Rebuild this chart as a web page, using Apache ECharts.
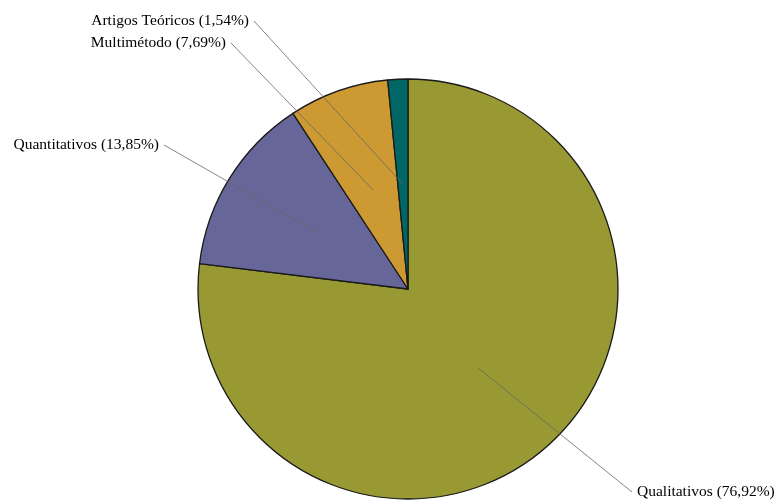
<!DOCTYPE html>
<html>
<head>
<meta charset="utf-8">
<script src="https://cdn.jsdelivr.net/npm/echarts@6/dist/echarts.min.js"></script>
<style>
html, body { margin: 0; padding: 0; background: #fff; }
#grafico { width: 774px; height: 500px; }
</style>
</head>
<body>
<div id="grafico"></div>
<script>
var categorias = ['Qualitativos', 'Quantitativos', 'Multimétodo', 'Artigos Teóricos'];
var percentuais = [76.92, 13.85, 7.69, 1.54];
var cores = ['#999933', '#666699', '#CC9933', '#006666'];

// onde cada linha-guia termina (posição do rótulo) e de que lado fica o texto
var fimLinhas = [[632, 492, 'left'], [164, 145, 'right'], [231, 43, 'right'], [254, 21, 'right']];

var centro = [408, 289];
var raio = 210;

function textoRotulo(i) {
    return categorias[i] + ' (' + percentuais[i].toFixed(2).replace('.', ',') + '%)';
}

// ponto interno da fatia onde começa a linha-guia (metade do raio, ângulo médio)
function inicioLinha(i) {
    var total = 0, acum = 0;
    for (var k = 0; k < percentuais.length; k++) {
        total += percentuais[k];
        if (k < i) acum += percentuais[k];
    }
    var ang = (acum + percentuais[i] / 2) / total * 2 * Math.PI;
    var r = raio * 0.5;
    return [centro[0] + r * Math.sin(ang), centro[1] - r * Math.cos(ang)];
}

var dados = [];
var dadosRotulos = [];
for (var i = 0; i < categorias.length; i++) {
    dados.push({ name: categorias[i], value: percentuais[i], itemStyle: { color: cores[i] } });
    dadosRotulos.push({ name: categorias[i], value: percentuais[i] });
}

var grafico = echarts.init(document.getElementById('grafico'));
grafico.setOption({
    animation: false,
    backgroundColor: '#fff',
    series: [{
        // fatias
        type: 'pie',
        z: 2,
        center: centro,
        radius: raio,
        startAngle: 90,
        clockwise: true,
        silent: true,
        data: dados,
        itemStyle: {
            borderColor: '#1a1a1a',
            borderWidth: 1.3
        },
        label: { show: false },
        labelLine: { show: false }
    }, {
        // camada transparente por cima só para rótulos e linhas-guia
        type: 'pie',
        z: 5,
        center: centro,
        radius: raio,
        startAngle: 90,
        clockwise: true,
        silent: true,
        avoidLabelOverlap: false,
        data: dadosRotulos,
        itemStyle: {
            color: 'rgba(0,0,0,0)',
            borderWidth: 0
        },
        label: {
            show: true,
            position: 'outside',
            fontFamily: 'Liberation Serif',
            fontSize: 15.5,
            color: '#000',
            formatter: function(p) {
                return textoRotulo(p.dataIndex);
            }
        },
        labelLine: {
            show: true,
            lineStyle: { color: '#666', width: 0.8 }
        },
        labelLayout: function(params) {
            var f = fimLinhas[params.dataIndex];
            var dx = f[2] === 'left' ? 5 : -5;
            return {
                x: f[0] + dx,
                y: f[1],
                align: f[2],
                verticalAlign: 'middle',
                labelLinePoints: [inicioLinha(params.dataIndex), [f[0], f[1]]]
            };
        }
    }]
});
</script>
</body>
</html>
